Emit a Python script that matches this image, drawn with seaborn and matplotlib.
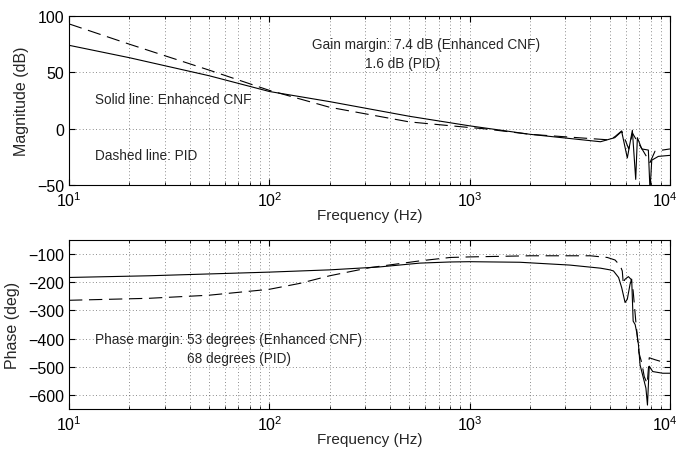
import numpy as np
import pandas as pd
import matplotlib
matplotlib.use("Agg")
import matplotlib.pyplot as plt
import matplotlib.transforms as mtransforms
import seaborn as sns
from matplotlib.ticker import LogLocator, NullFormatter

# Open-loop frequency response, Enhanced CNF (solid) vs PID (dashed)
mag_cnf_freq = [10, 20, 50, 100, 200, 500, 1000, 2000, 4500, 5300, 5740, 6125, 6490,
                6745, 6875, 7230, 7800, 7950, 8110, 8750, 10000]
mag_cnf_db = [74, 63, 47, 33, 24, 11, 2.5, -5, -11.6, -8, -2.5, -26, -1.5,
              -45, -8, -18, -19, -55, -28, -24.6, -23.7]

mag_pid_freq = [10, 20, 50, 100, 200, 500, 1000, 1170, 2000, 5000, 5320, 5740, 6225,
                6500, 6800, 7250, 7950, 8420, 10000]
mag_pid_db = [93, 75, 52, 34, 19, 6, 1, 0, -5, -10, -7, -2, -18,
              -4, -10, -18, -30, -20, -18]

ph_cnf_freq = [10, 25, 100, 200, 350, 565, 800, 1000, 1780, 3162, 4500, 5017, 5225,
               5540, 5740, 5970, 6125, 6320, 6440, 6550, 6700, 6830, 6960, 7090,
               7300, 7440, 7585, 7720, 7880, 8200, 9200, 10000]
ph_cnf_deg = [-183, -177, -164, -156, -146, -132, -128, -127, -129, -139, -150, -156, -160,
              -183, -219, -272, -260, -207, -189, -338, -350, -379, -421, -493,
              -529, -552, -576, -636, -498, -517, -523, -523]

ph_pid_freq = [10, 25, 50, 100, 142, 200, 318, 565, 800, 1000, 2000, 4000, 4865,
               5320, 5650, 5780, 5850, 5950, 6200, 6400, 6550, 6750, 6880, 7000,
               7230, 7440, 7700, 7880, 8420, 9000, 10000]
ph_pid_deg = [-264, -257, -246, -225, -204, -177, -148, -124, -112, -110, -106, -106, -112,
              -121, -142, -160, -207, -190, -180, -190, -231, -338, -396, -450,
              -486, -535, -560, -468, -475, -481, -481]

freq_ticks = [10, 100, 1000, 10000]
freq_tick_labels = [r"$\mathdefault{10^{1}}$", r"$\mathdefault{10^{2}}$",
                    r"$\mathdefault{10^{3}}$", r"$\mathdefault{10^{4}}$"]
mag_ticks = [-50, 0, 50, 100]
phase_ticks = [-600, -500, -400, -300, -200, -100]

sns.set_style("ticks")
plt.rcParams["font.family"] = ["Liberation Sans", "DejaVu Sans"]
plt.rcParams["font.size"] = 10
plt.rcParams["mathtext.fontset"] = "custom"
plt.rcParams["mathtext.rm"] = "Liberation Sans"

fig = plt.figure(figsize=(6.79, 4.52), dpi=100, facecolor="white")
ax_mag = fig.add_axes([0.1016, 0.5885, 0.8851, 0.3739])
ax_ph = fig.add_axes([0.1016, 0.0929, 0.8851, 0.3739])

line_kw = dict(color="black", linewidth=0.8, estimator=None, sort=False)
sns.lineplot(x=mag_cnf_freq, y=mag_cnf_db, ax=ax_mag, linestyle="-", **line_kw)
sns.lineplot(x=mag_pid_freq, y=mag_pid_db, ax=ax_mag, dashes=(12, 6), **line_kw)
sns.lineplot(x=ph_cnf_freq, y=ph_cnf_deg, ax=ax_ph, linestyle="-", **line_kw)
sns.lineplot(x=ph_pid_freq, y=ph_pid_deg, ax=ax_ph, dashes=(12, 6), **line_kw)

for ax in (ax_mag, ax_ph):
    ax.set_xscale("log")
    ax.set_xlim(10, 10000)
    ax.set_xticks(freq_ticks, labels=freq_tick_labels)
    ax.xaxis.set_minor_locator(LogLocator(base=10, subs=np.arange(2, 10), numticks=20))
    ax.xaxis.set_minor_formatter(NullFormatter())
    ax.set_xlabel("Frequency (Hz)", fontsize=11, labelpad=-1)
    ax.grid(True, which="major", linestyle=(0, (1, 3)), color="black", linewidth=0.6, alpha=0.6)
    ax.grid(True, which="minor", axis="x", linestyle=(0, (1, 3)), color="black", linewidth=0.6, alpha=0.6)
    ax.tick_params(which="both", direction="in", top=True, right=True, colors="black",
                   labelsize=11.5)
    ax.tick_params(axis="x", which="major", pad=4)
    ax.tick_params(which="major", length=4, width=0.8)
    ax.tick_params(which="minor", length=2, width=0.6)
    for sp in ax.spines.values():
        sp.set_color("black")
        sp.set_linewidth(0.8)
    ax.set_facecolor("white")

ax_mag.set_ylim(-50, 100)
ax_mag.set_yticks(mag_ticks)
ax_mag.set_ylabel("Magnitude (dB)", fontsize=11.5, labelpad=6)

ax_ph.set_ylim(-650, -50)
ax_ph.set_yticks(phase_ticks)
ax_ph.set_ylabel("Phase (deg)", fontsize=11.5, labelpad=6)

# nudge the 10^4 label left so it stays inside the canvas
shift = mtransforms.ScaledTranslation(-5 / 100, 0, fig.dpi_scale_trans)
for ax in (ax_mag, ax_ph):
    last = ax.xaxis.get_major_ticks()[-1].label1
    last.set_transform(last.get_transform() + shift)

fs = 9.8
ax_mag.text(163, 75, "Gain margin: 7.4 dB (Enhanced CNF)", fontsize=fs, va="center")
ax_mag.text(301, 58.4, "1.6 dB (PID)", fontsize=fs, va="center")
ax_mag.text(13.5, 26, "Solid line: Enhanced CNF", fontsize=fs, va="center")
ax_mag.text(13.5, -23.6, "Dashed line: PID", fontsize=fs, va="center")

ax_ph.text(13.5, -400, "Phase margin: 53 degrees (Enhanced CNF)", fontsize=fs, va="center")
ax_ph.text(38.7, -469, "68 degrees (PID)", fontsize=fs, va="center")

fig.savefig("out.png", dpi=100, facecolor="white")
